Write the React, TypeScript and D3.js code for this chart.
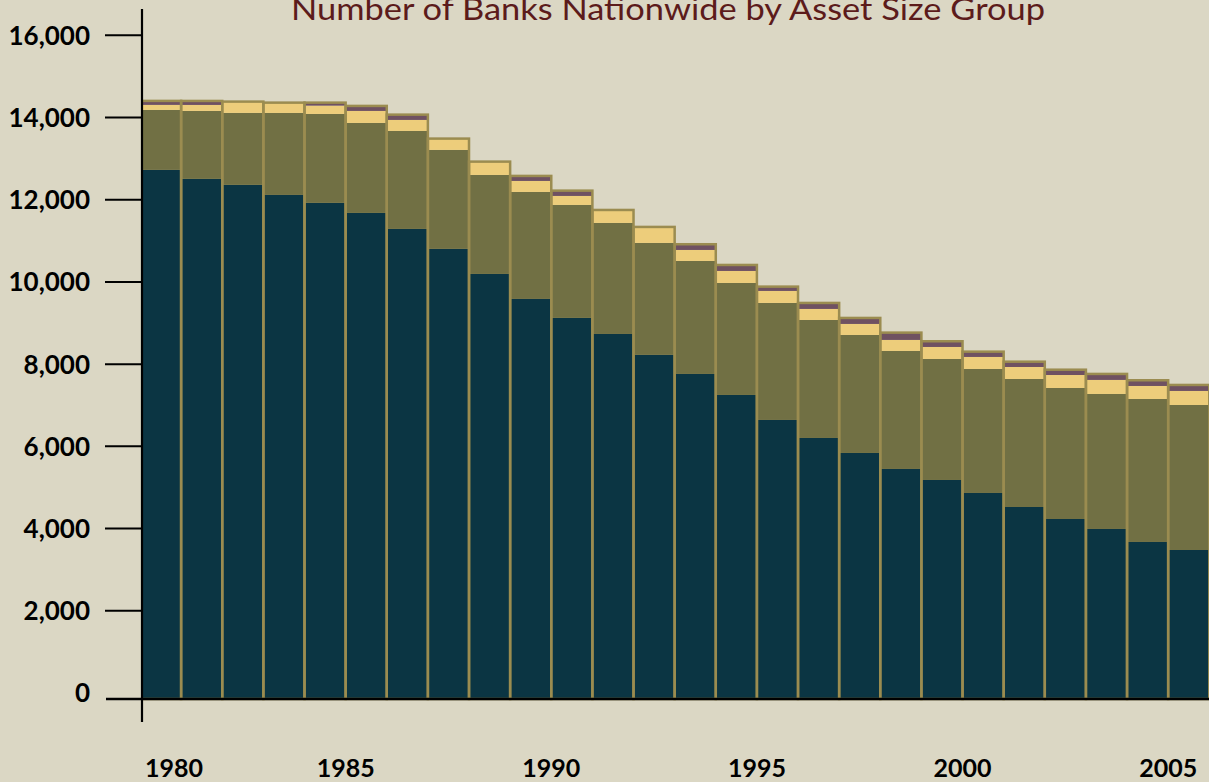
import React from "react";
import * as d3 from "d3";

// ---- data ----
const years = [
  1980, 1981, 1982, 1983, 1984, 1985, 1986, 1987, 1988, 1989, 1990, 1991, 1992,
  1993, 1994, 1995, 1996, 1997, 1998, 1999, 2000, 2001, 2002, 2003, 2004, 2005,
];
const under100M = [
  12725, 12506, 12360, 12116, 11922, 11678, 11289, 10803, 10194, 9586, 9124, 8734,
  8224, 7761, 7250, 6642, 6204, 5839, 5450, 5182, 4866, 4525, 4233, 3990, 3674, 3479,
];
const from100Mto1B = [
  1460, 1654, 1752, 1995, 2165, 2190, 2384, 2409, 2409, 2603, 2749, 2701, 2725,
  2749, 2725, 2847, 2871, 2871, 2871, 2944, 3017, 3114, 3187, 3285, 3479, 3528,
];
const from1Bto10B = [
  122, 146, 275, 251, 202, 292, 268, 275, 324, 268, 219, 316, 389, 268, 292, 292,
  268, 268, 268, 292, 292, 292, 316, 341, 316, 341,
];
const over10B = [
  97, 97, 0, 0, 73, 122, 129, 0, 0, 122, 129, 0, 0, 139, 146, 105, 146, 146, 178,
  139, 129, 129, 129, 146, 139, 146,
];
const yTicks = [0, 2000, 4000, 6000, 8000, 10000, 12000, 14000, 16000];
const xTickYears = [1980, 1985, 1990, 1995, 2000, 2005];
const title = "Number of Banks Nationwide by Asset Size Group";

const keys = ["under100M", "from100Mto1B", "from1Bto10B", "over10B"];
const colors: Record<string, string> = {
  under100M: "#0B3543",
  from100Mto1B: "#717044",
  from1Bto10B: "#EDCD7B",
  over10B: "#6F5161",
};

export default function App() {
  const W = 1209;
  const H = 782;
  const table = years.map((yr, i) => ({
    year: yr,
    under100M: under100M[i],
    from100Mto1B: from100Mto1B[i],
    from1Bto10B: from1Bto10B[i],
    over10B: over10B[i],
  }));
  const stacked = d3.stack<any>().keys(keys)(table);

  const x = d3.scaleLinear().domain([1980, 2006]).range([140, 1209.3]);
  const y = d3.scaleLinear().domain([0, 16000]).range([693, 35.3]);
  const axisX = 142;
  const baseY = y(0) + 6; // category axis sits slightly below the zero tick
  const font = "Lato, 'Open Sans', sans-serif";

  return (
    <svg
      width={W}
      height={H}
      style={{ position: "absolute", left: 0, top: 0, display: "block" }}
    >
      <defs>
        <clipPath id="plotClip">
          <rect x={axisX} y={0} width={W - axisX} height={H} />
        </clipPath>
      </defs>
      <rect x={0} y={0} width={W} height={H} fill="#DBD7C4" />

      <g clipPath="url(#plotClip)">
        {/* stacked segments */}
        {stacked.map((series) => (
          <g key={series.key} fill={colors[series.key]}>
            {series.map((d, i) => {
              const yr = years[i];
              const top = y(d[1]);
              const bottom = d[0] === 0 ? baseY : y(d[0]);
              return (
                <rect
                  key={yr}
                  x={x(yr)}
                  width={x(yr + 1) - x(yr)}
                  y={top}
                  height={Math.max(0, bottom - top)}
                />
              );
            })}
          </g>
        ))}

        {/* outline of each bar stack */}
        <g fill="none" stroke="#9B8C50" strokeWidth={2.5}>
          {table.map((d, i) => {
            const total = stacked[stacked.length - 1][i][1];
            const top = y(total);
            return (
              <rect
                key={d.year}
                x={x(d.year)}
                width={x(d.year + 1) - x(d.year)}
                y={top}
                height={baseY - top}
              />
            );
          })}
        </g>
      </g>

      {/* title */}
      <text
        x={291}
        y={20}
        fontFamily={font}
        fontSize={30}
        fill="#5C1B1B"
        textLength={754}
        lengthAdjust="spacingAndGlyphs"
      >
        {title}
      </text>

      {/* y axis */}
      <line x1={axisX} x2={axisX} y1={9} y2={722} stroke="#000" strokeWidth={2.2} />
      {yTicks.map((t) => (
        <g key={t}>
          {t !== 0 && (
            <line x1={105} x2={axisX} y1={y(t)} y2={y(t)} stroke="#000" strokeWidth={2} />
          )}
          <text
            x={90}
            y={y(t)}
            dy="0.36em"
            textAnchor="end"
            fontFamily={font}
            fontWeight={700}
            fontSize={26}
            fill="#000"
          >
            {d3.format(",")(t)}
          </text>
        </g>
      ))}

      {/* x axis */}
      <line x1={106} x2={W} y1={baseY} y2={baseY} stroke="#000" strokeWidth={2.5} />
      {xTickYears.map((yr, i) => (
        <text
          key={yr}
          x={i === 0 ? x(yr) + 5 : x(yr)}
          y={777}
          textAnchor={i === 0 ? "start" : "middle"}
          fontFamily={font}
          fontWeight={700}
          fontSize={25}
          fill="#000"
        >
          {yr}
        </text>
      ))}
    </svg>
  );
}
